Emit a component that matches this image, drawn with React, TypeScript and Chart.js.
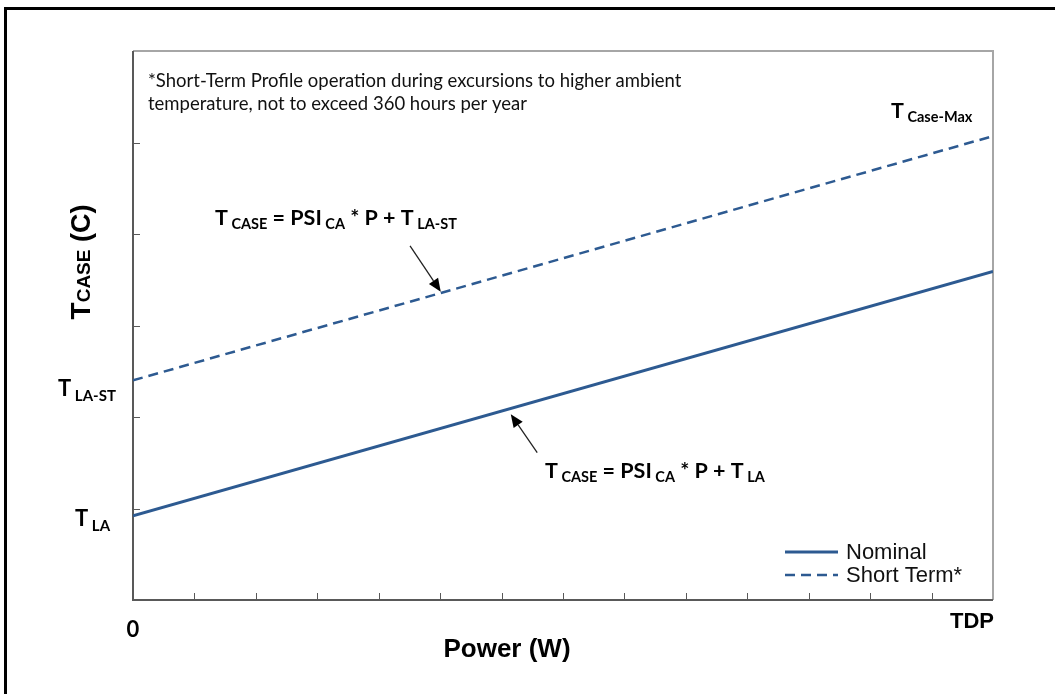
import React, { useEffect, useRef } from "react";
import { Chart, registerables } from "chart.js";

Chart.register(...registerables);

// ---- data (power in grid steps 0..TDP=14, temperature in grid steps 0..6) ----
const powerPoints = [0, 14];
const nominalValues = [0.92, 3.59];
const shortTermValues = [2.4, 5.07];
const seriesNames = ["Nominal", "Short Term*"];
const xTickLabels = ["0", "TDP"];
const xMinorTicks = [1, 2, 3, 4, 5, 6, 7, 8, 9, 10, 11, 12, 13];
const yMinorTicks = [1, 2, 3, 4, 5];
const yLevelLabels = [
  { main: "T", sub: "LA", value: 0.92, left: 75, dy: 10 },
  { main: "T", sub: "LA-ST", value: 2.4, left: 58, dy: 16 },
];
// arrow annotations in data units: tail -> head
const arrowShort = { x0: 4.51, y0: 3.87, x1: 5.01, y1: 3.37 };
const arrowNominal = { x0: 6.58, y0: 1.61, x1: 6.15, y1: 2.03 };

const LINE_COLOR = "#2D5A91";
const CAL = "Lato, 'Open Sans', sans-serif";
const ARIAL = "'Liberation Sans', Arial, sans-serif";

type Part = [string, string, number];
function rich(ctx: CanvasRenderingContext2D, x: number, y: number, parts: Part[]) {
  let cx = x;
  for (const [t, f, dy] of parts) {
    ctx.font = f;
    ctx.fillText(t, cx, y + dy);
    cx += ctx.measureText(t).width;
  }
  return cx;
}
function richWidth(ctx: CanvasRenderingContext2D, parts: Part[]) {
  let w = 0;
  for (const [t, f] of parts) {
    ctx.font = f;
    w += ctx.measureText(t).width;
  }
  return w;
}
function arrow(ctx: CanvasRenderingContext2D, x0: number, y0: number, x1: number, y1: number) {
  const ang = Math.atan2(y1 - y0, x1 - x0);
  const hl = 13, hw = 5.5;
  const bx = x1 - hl * Math.cos(ang), by = y1 - hl * Math.sin(ang);
  ctx.strokeStyle = "#222";
  ctx.fillStyle = "#000";
  ctx.lineWidth = 1.3;
  ctx.beginPath();
  ctx.moveTo(x0, y0);
  ctx.lineTo(bx, by);
  ctx.stroke();
  ctx.beginPath();
  ctx.moveTo(x1, y1);
  ctx.lineTo(bx + hw * Math.sin(ang), by - hw * Math.cos(ang));
  ctx.lineTo(bx - hw * Math.sin(ang), by + hw * Math.cos(ang));
  ctx.closePath();
  ctx.fill();
}

const overlay = {
  id: "overlay",
  beforeDatasetsDraw(chart: any) {
    const { ctx, chartArea: a, scales } = chart;
    const x = scales.x, y = scales.y;
    ctx.save();
    // light frame top/right
    ctx.strokeStyle = "#A6A6A6";
    ctx.lineWidth = 2;
    ctx.beginPath();
    ctx.moveTo(a.left, a.top);
    ctx.lineTo(a.right, a.top);
    ctx.lineTo(a.right, a.bottom);
    ctx.stroke();
    // inward tick marks
    ctx.strokeStyle = "#595959";
    ctx.lineWidth = 1;
    ctx.beginPath();
    xMinorTicks.forEach((v) => {
      const px = Math.round(x.getPixelForValue(v)) + 0.5;
      ctx.moveTo(px, a.bottom);
      ctx.lineTo(px, a.bottom - 7);
    });
    yMinorTicks.forEach((v) => {
      const py = Math.round(y.getPixelForValue(v)) + 0.5;
      ctx.moveTo(a.left, py);
      ctx.lineTo(a.left + 7, py);
    });
    ctx.stroke();
    // axes
    ctx.strokeStyle = "#595959";
    ctx.lineWidth = 2;
    ctx.beginPath();
    ctx.moveTo(a.left, a.top);
    ctx.lineTo(a.left, a.bottom);
    ctx.lineTo(a.right, a.bottom);
    ctx.stroke();
    ctx.restore();
  },
  afterDatasetsDraw(chart: any) {
    const { ctx, chartArea: a, scales } = chart;
    const x = scales.x, y = scales.y;
    ctx.save();
    ctx.fillStyle = "#000";
    ctx.textBaseline = "alphabetic";
    ctx.textAlign = "left";

    // outer black frame
    ctx.strokeStyle = "#000";
    ctx.lineWidth = 3;
    ctx.beginPath();
    ctx.moveTo(5.5, 694);
    ctx.lineTo(5.5, 8.5);
    ctx.lineTo(1055, 8.5);
    ctx.stroke();

    // note
    ctx.fillStyle = "#111";
    ctx.font = `18.5px ${CAL}`;
    ctx.fillText("*Short-Term Profile operation during excursions to higher ambient", a.left + 15, 87);
    ctx.fillText("temperature, not to exceed 360 hours per year", a.left + 15, 110);

    ctx.fillStyle = "#000";
    const big = `bold 21.5px ${CAL}`;
    const sub = `bold 14.5px ${CAL}`;
    // T Case-Max
    rich(ctx, 891, 118, [["T", big, 0], [" Case-Max", sub, 4]]);

    // formulas
    rich(ctx, 215, 225, [
      ["T", big, 0], [" CASE", sub, 4], [" = PSI", big, 0], [" CA", sub, 4],
      [" * P + T", big, 0], [" LA-ST", sub, 4],
    ]);
    rich(ctx, 545, 478, [
      ["T", big, 0], [" CASE", sub, 4], [" = PSI", big, 0], [" CA", sub, 4],
      [" * P + T", big, 0], [" LA", sub, 4],
    ]);

    // arrows
    arrow(ctx, x.getPixelForValue(arrowShort.x0), y.getPixelForValue(arrowShort.y0),
      x.getPixelForValue(arrowShort.x1), y.getPixelForValue(arrowShort.y1));
    arrow(ctx, x.getPixelForValue(arrowNominal.x0), y.getPixelForValue(arrowNominal.y0),
      x.getPixelForValue(arrowNominal.x1), y.getPixelForValue(arrowNominal.y1));

    // y level labels
    yLevelLabels.forEach((l) => {
      const parts: Part[] = [[l.main, `bold 22px ${CAL}`, 0], [" " + l.sub, `bold 15px ${CAL}`, 5]];
      const py = y.getPixelForValue(l.value);
      rich(ctx, l.left, py + l.dy, parts);
    });

    // y title (rotated)
    ctx.save();
    ctx.translate(90, 262);
    ctx.rotate(-Math.PI / 2);
    const tParts: Part[] = [["T", `bold 28px ${ARIAL}`, 0], ["CASE", `bold 19px ${ARIAL}`, 0], [" (C)", `bold 27px ${ARIAL}`, 0]];
    const tw = richWidth(ctx, tParts);
    rich(ctx, -tw / 2, 0, tParts);
    ctx.restore();

    // x labels
    ctx.font = `bold 22px ${CAL}`;
    ctx.textAlign = "center";
    ctx.fillText(xTickLabels[0], x.getPixelForValue(powerPoints[0]), 637);
    ctx.font = `bold 22px ${ARIAL}`;
    ctx.textAlign = "right";
    ctx.fillText(xTickLabels[1], x.getPixelForValue(powerPoints[1]) + 1, 628);
    ctx.font = `bold 26px ${ARIAL}`;
    ctx.textAlign = "center";
    ctx.fillText("Power (W)", (a.left + a.right) / 2 - 56, 657);

    // legend
    ctx.textAlign = "left";
    const ds = chart.data.datasets;
    const rows = [552, 575];
    ds.forEach((d: any, i: number) => {
      ctx.strokeStyle = d.borderColor;
      ctx.lineWidth = d.borderWidth;
      ctx.setLineDash(d.borderDash || []);
      ctx.beginPath();
      ctx.moveTo(785, rows[i]);
      ctx.lineTo(838, rows[i]);
      ctx.stroke();
      ctx.setLineDash([]);
      ctx.fillStyle = "#111";
      ctx.font = `22px ${ARIAL}`;
      ctx.fillText(d.label, 846, rows[i] + 7);
    });
    ctx.restore();
  },
};

export default function App() {
  const ref = useRef<HTMLCanvasElement | null>(null);
  useEffect(() => {
    if (!ref.current) return;
    const chart = new Chart(ref.current, {
      type: "line",
      data: {
        datasets: [
          {
            label: seriesNames[0],
            data: powerPoints.map((p, i) => ({ x: p, y: nominalValues[i] })),
            borderColor: LINE_COLOR,
            borderWidth: 3,
            pointRadius: 0,
            fill: false,
          },
          {
            label: seriesNames[1],
            data: powerPoints.map((p, i) => ({ x: p, y: shortTermValues[i] })),
            borderColor: LINE_COLOR,
            borderWidth: 2.5,
            borderDash: [10, 6],
            pointRadius: 0,
            fill: false,
          },
        ],
      },
      options: {
        responsive: false,
        animation: false,
        devicePixelRatio: 1,
        layout: { padding: { left: 133, top: 51, right: 62, bottom: 94 } },
        plugins: { legend: { display: false }, tooltip: { enabled: false } },
        scales: {
          x: { type: "linear", min: 0, max: 14, display: false },
          y: { type: "linear", min: 0, max: 6, display: false },
        },
      },
      plugins: [overlay],
    } as any);
    return () => chart.destroy();
  }, []);
  return (
    <div style={{ position: "fixed", left: 0, top: 0, width: 1055, height: 694, background: "#fff" }}>
      <canvas ref={ref} width={1055} height={694} style={{ display: "block" }} />
    </div>
  );
}
